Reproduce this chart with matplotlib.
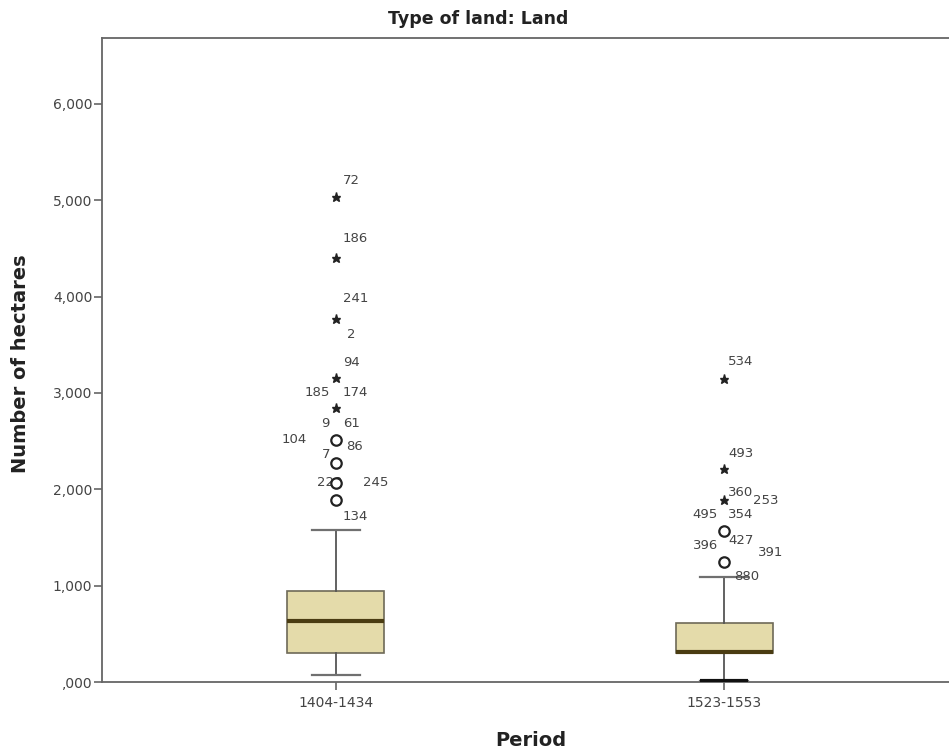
import matplotlib
matplotlib.use("Agg")
import matplotlib.pyplot as plt
from matplotlib.ticker import FuncFormatter

plt.rcParams['font.family'] = ['DejaVu Sans']

# data
periods = ['1404-1434', '1523-1553']
q1 = [301, 300]
medians = [630, 308]
q3 = [945, 613]
whisker_low = [73, 10]
whisker_high = [1578, 1090]

# outliers (circles) and extremes (stars) per period
outlier_vals = [[2513, 2274, 2066, 1890], [1568, 1246]]
extreme_vals = [[5036, 4403, 3769, 3157, 2845], [3146, 2211, 1889]]

# case labels: (period index, value, text)
case_labels = [
    (0, 5036, '72'), (0, 4403, '186'), (0, 3769, '241'), (0, 3769, '2'),
    (0, 3157, '94'), (0, 2845, '185'), (0, 2845, '174'),
    (0, 2513, '9'), (0, 2513, '61'), (0, 2513, '104'), (0, 2513, '86'),
    (0, 2274, '7'), (0, 2066, '220'), (0, 2066, '245'), (0, 1890, '134'),
    (1, 3146, '534'), (1, 2211, '493'), (1, 1889, '360'), (1, 1889, '253'),
    (1, 1568, '495'), (1, 1568, '354'),
    (1, 1246, '396'), (1, 1246, '427'), (1, 1246, '391'), (1, 1090, '880'),
]
# label placement in pixels (dx, dy, ha)
label_offsets = [
    (7, 16, 'left'), (7, 19, 'left'), (7, 20, 'left'), (11, -16, 'left'),
    (7, 15, 'left'), (-6, 15, 'right'), (7, 15, 'left'),
    (-6, 16, 'right'), (7, 16, 'left'), (-29, 0, 'right'), (10, -7, 'left'),
    (-6, 8, 'right'), (6, 0, 'right'), (27, 0, 'left'), (7, -17, 'left'),
    (4, 17, 'left'), (4, 16, 'left'), (4, 8, 'left'), (29, 0, 'left'),
    (-6, 16, 'right'), (4, 16, 'left'),
    (-6, 16, 'right'), (4, 21, 'left'), (34, 9, 'left'), (10, 0, 'left'),
]

fig = plt.figure(figsize=(9.49, 7.56), dpi=100)
ax = fig.add_axes([102 / 949, 74 / 756, 856 / 949, 644 / 756])

positions = [1, 2]
stats = []
for i, name in enumerate(periods):
    stats.append(dict(label=name, q1=q1[i], med=medians[i], q3=q3[i],
                      whislo=whisker_low[i], whishi=whisker_high[i], fliers=[]))

ax.bxp(stats, positions=positions, widths=0.25, patch_artist=True, showfliers=False,
       boxprops=dict(facecolor='#e4dbaa', edgecolor='#6e6a58', linewidth=1.2),
       medianprops=dict(color='#4a3c12', linewidth=3),
       whiskerprops=dict(color='#555555', linewidth=1.3),
       capprops=dict(color='#707070', linewidth=1.6),
       capwidths=0.125)

# SPSS draws the lower cap of the second period dark
ax.plot([positions[1] - 0.0625, positions[1] + 0.0625], [whisker_low[1]] * 2,
        color='#111111', linewidth=3, solid_capstyle='butt', zorder=3)

for i, p in enumerate(positions):
    ax.plot([p] * len(outlier_vals[i]), outlier_vals[i], 'o', markersize=7.5,
            markerfacecolor='white', markeredgecolor='#222222', markeredgewidth=1.6, zorder=4)
    ax.plot([p] * len(extreme_vals[i]), extreme_vals[i], '*', markersize=6.5,
            color='#222222', zorder=4)

for (idx, val, txt), (dx, dy, ha) in zip(case_labels, label_offsets):
    ax.annotate(txt, (positions[idx], val), xytext=(dx, dy), textcoords='offset pixels',
                ha=ha, va='center', fontsize=9.5, color='#444444')

ax.set_xlim(0.397, 2.603)
ax.set_ylim(0, 6685)
ax.set_yticks([0, 1000, 2000, 3000, 4000, 5000, 6000])
ax.yaxis.set_major_formatter(FuncFormatter(lambda v, pos: ',000' if v == 0 else f'{int(v):,}'))
ax.set_xticks(positions)
ax.set_xticklabels(periods)

for side in ['left', 'bottom', 'top', 'right']:
    ax.spines[side].set_color('#666666')
    ax.spines[side].set_linewidth(1.3)
ax.tick_params(axis='both', direction='out', length=6, width=1.2, color='#666666',
               labelsize=10, labelcolor='#444444')
ax.tick_params(axis='y', pad=1)
ax.tick_params(axis='x', pad=4)

fig.text(21 / 949, 1 - 364 / 756, 'Number of hectares', rotation=90, ha='center', va='center',
         fontsize=14, fontweight='bold', color='#222222')
fig.text(531 / 949, 1 - 740 / 756, 'Period', ha='center', va='center',
         fontsize=14, fontweight='bold', color='#222222')
fig.text(478 / 949, 1 - 19 / 756, 'Type of land: Land', ha='center', va='center',
         fontsize=12.5, fontweight='bold', color='#222222')

fig.savefig('out.png', dpi=100)
